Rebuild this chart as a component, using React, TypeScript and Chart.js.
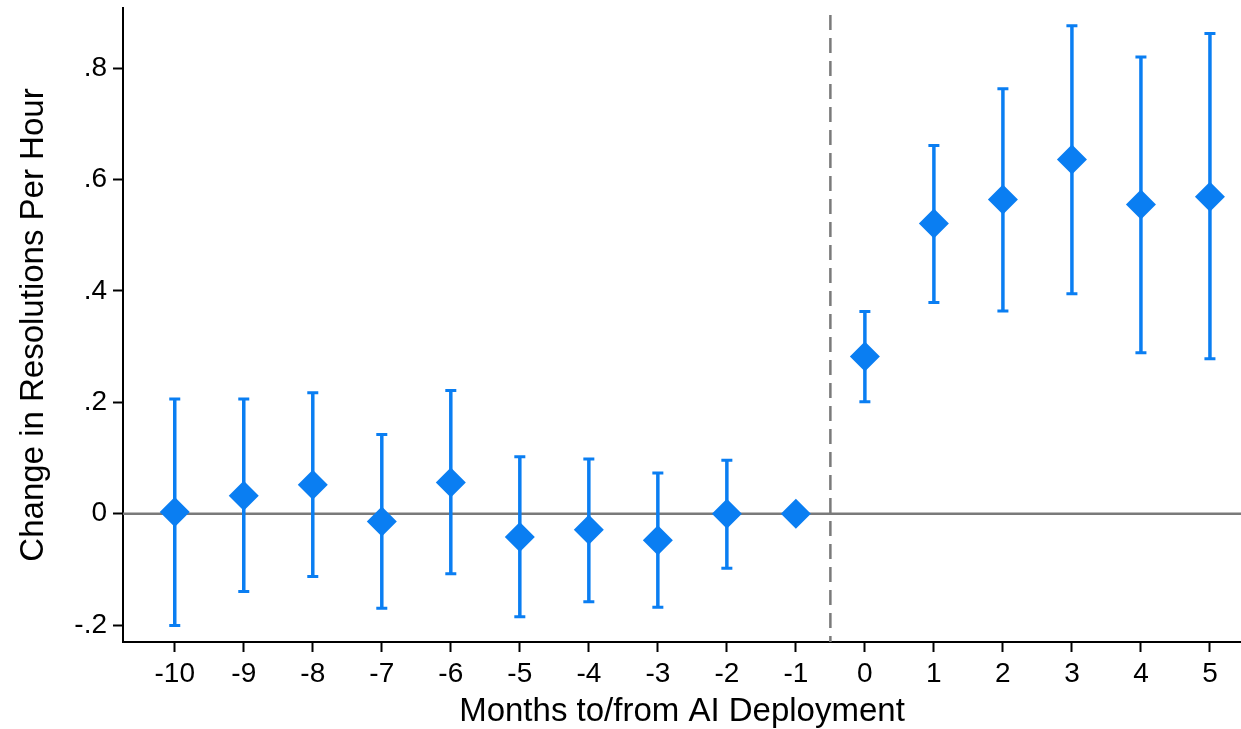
import React, { useEffect, useRef } from 'react';
import { Chart, registerables } from 'chart.js';

Chart.register(...registerables);

const months = [-10, -9, -8, -7, -6, -5, -4, -3, -2, -1, 0, 1, 2, 3, 4, 5];
const estimates = [0.003, 0.032, 0.052, -0.014, 0.056, -0.042, -0.029, -0.048, 0.0, 0.0, 0.282, 0.521, 0.564, 0.636, 0.555, 0.569];
const ciLower = [-0.201, -0.14, -0.113, -0.17, -0.108, -0.185, -0.158, -0.168, -0.098, null, 0.201, 0.379, 0.364, 0.395, 0.289, 0.278];
const ciUpper = [0.206, 0.206, 0.217, 0.142, 0.221, 0.102, 0.098, 0.073, 0.096, null, 0.363, 0.661, 0.763, 0.876, 0.82, 0.862];
const yTickValues = [-0.2, 0, 0.2, 0.4, 0.6, 0.8];
const yTickLabels = ['-.2', '0', '.2', '.4', '.6', '.8'];
const deploymentMonth = -0.5;
const xTitle = 'Months to/from AI Deployment';
const yTitle = 'Change in Resolutions Per Hour';

const BLUE = '#0A7EF2';
const GRAY = '#7a7a7a';
const FONT = '"Liberation Sans", Arial, Helvetica, sans-serif';

const refLinesPlugin = {
  id: 'refLines',
  beforeDatasetsDraw(chart: any) {
    const { ctx, chartArea, scales } = chart;
    const x = scales.x;
    const y = scales.y;
    ctx.save();
    // zero line
    const y0 = y.getPixelForValue(0);
    ctx.strokeStyle = GRAY;
    ctx.lineWidth = 2.5;
    ctx.beginPath();
    ctx.moveTo(chartArea.left, y0);
    ctx.lineTo(chartArea.right, y0);
    ctx.stroke();
    // deployment dashed line
    const xd = x.getPixelForValue(deploymentMonth);
    ctx.setLineDash([15, 8]);
    ctx.beginPath();
    ctx.moveTo(xd, chartArea.top + 7);
    ctx.lineTo(xd, chartArea.bottom);
    ctx.stroke();
    ctx.setLineDash([]);
    // error bars
    ctx.strokeStyle = BLUE;
    for (let i = 0; i < months.length; i++) {
      const lo = ciLower[i];
      const hi = ciUpper[i];
      if (lo == null || hi == null) continue;
      const px = x.getPixelForValue(months[i]);
      const pLo = y.getPixelForValue(lo);
      const pHi = y.getPixelForValue(hi);
      ctx.lineWidth = 3.5;
      ctx.beginPath();
      ctx.moveTo(px, pLo);
      ctx.lineTo(px, pHi);
      ctx.stroke();
      ctx.lineWidth = 3;
      ctx.beginPath();
      ctx.moveTo(px - 5.5, pLo);
      ctx.lineTo(px + 5.5, pLo);
      ctx.moveTo(px - 5.5, pHi);
      ctx.lineTo(px + 5.5, pHi);
      ctx.stroke();
    }
    ctx.restore();
  },
};

export default function App() {
  const canvasRef = useRef<HTMLCanvasElement | null>(null);

  useEffect(() => {
    document.body.style.margin = '0';
    document.body.style.overflow = 'hidden';
    const canvas = canvasRef.current;
    if (!canvas) return;
    const chart = new Chart(canvas, {
      type: 'scatter',
      data: {
        datasets: [
          {
            data: months.map((m, i) => ({ x: m, y: estimates[i] })),
            pointStyle: 'rectRot',
            pointRadius: 15,
            pointHoverRadius: 15,
            backgroundColor: BLUE,
            borderColor: BLUE,
            borderWidth: 0,
            clip: false,
          },
        ],
      },
      options: {
        animation: false,
        responsive: false,
        maintainAspectRatio: false,
        layout: { autoPadding: false, padding: { left: 14, right: 0, top: 8, bottom: 0 } },
        plugins: {
          legend: { display: false },
          tooltip: { enabled: false },
        },
        scales: {
          x: {
            type: 'linear',
            min: -10.75,
            max: 5.45,
            afterBuildTicks(scale: any) {
              scale.ticks = months.map((v) => ({ value: v }));
            },
            afterFit(scale: any) {
              scale.height = 87;
              scale.paddingLeft = 0;
              scale.paddingRight = 0;
            },
            ticks: {
              color: '#000',
              font: { family: FONT, size: 28 },
              padding: 5,
              maxRotation: 0,
              autoSkip: false,
              callback: (v: any) => String(v),
            },
            grid: {
              drawOnChartArea: false,
              drawTicks: true,
              tickLength: 10,
              tickColor: '#000',
              tickWidth: 2,
            },
            border: { display: true, color: '#000', width: 2 },
            title: {
              display: true,
              text: xTitle,
              color: '#000',
              font: { family: FONT, size: 33 },
              padding: { top: 6, bottom: -3 },
            },
          },
          y: {
            type: 'linear',
            min: -0.2305,
            max: 0.908,
            afterBuildTicks(scale: any) {
              scale.ticks = yTickValues.map((v) => ({ value: v }));
            },
            afterFit(scale: any) {
              scale.width = 109;
              scale.paddingTop = 0;
              scale.paddingBottom = 0;
            },
            ticks: {
              color: '#000',
              font: { family: FONT, size: 28 },
              padding: 6,
              autoSkip: false,
              callback: (v: any) => {
                const idx = yTickValues.findIndex((t) => Math.abs(t - v) < 1e-9);
                return idx >= 0 ? yTickLabels[idx] : '';
              },
            },
            grid: {
              drawOnChartArea: false,
              drawTicks: true,
              tickLength: 10,
              tickColor: '#000',
              tickWidth: 2,
            },
            border: { display: true, color: '#000', width: 2 },
            title: {
              display: true,
              text: yTitle,
              color: '#000',
              font: { family: FONT, size: 33 },
              padding: { top: 0, bottom: 0 },
            },
          },
        },
      },
      plugins: [refLinesPlugin],
    });
    return () => chart.destroy();
  }, []);

  return (
    <div style={{ position: 'absolute', left: 0, top: 0, width: 1241, height: 729, overflow: 'hidden', background: '#fff' }}>
      <canvas ref={canvasRef} width={1241} height={729} style={{ display: 'block', width: 1241, height: 729 }} />
    </div>
  );
}
